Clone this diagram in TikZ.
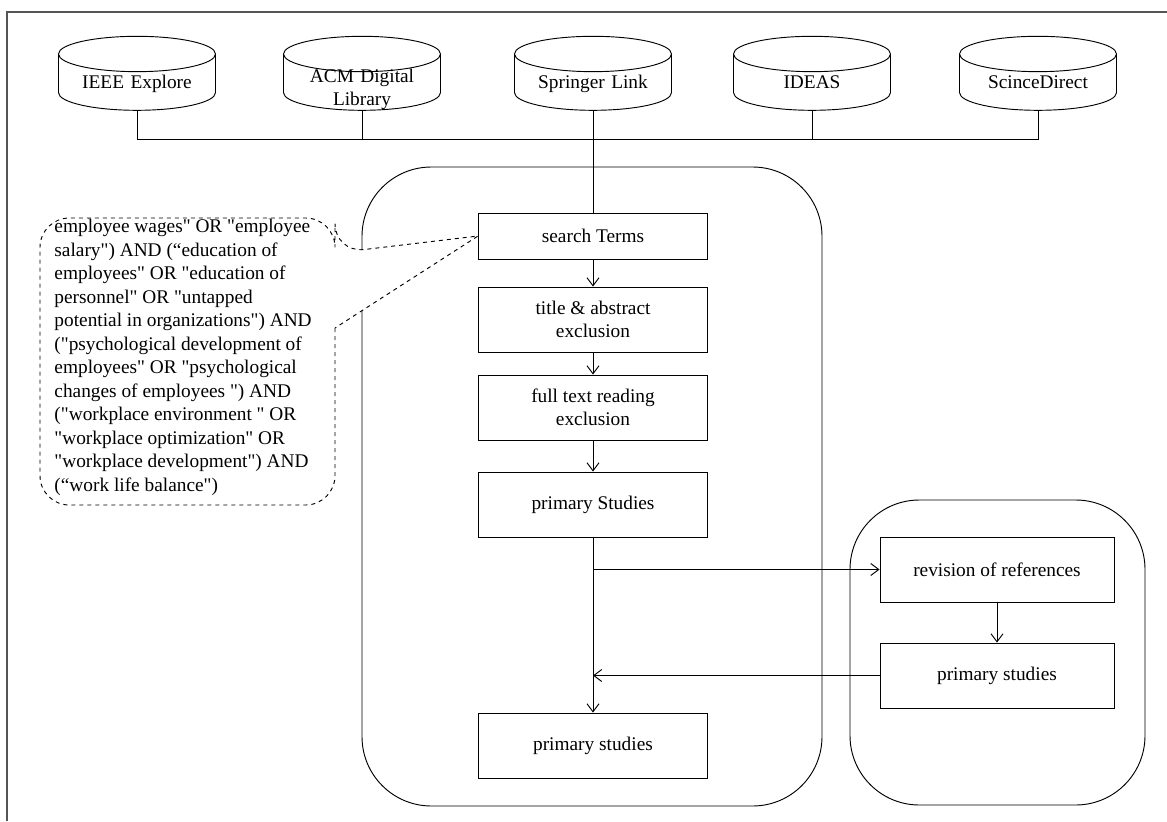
\documentclass[tikz,border=0pt]{standalone}
\usepackage{fontspec}
\setmainfont{Liberation Serif}[Ligatures=TeXOff]
\usetikzlibrary{shapes.geometric,arrows.meta,positioning}
\definecolor{framegray}{RGB}{85,85,85}
\newcommand{\labfont}{\fontsize{14.5}{17.6}\selectfont}

\tikzset{
  db/.style={cylinder, shape border rotate=90, draw, aspect=0.26,
    minimum width=157*0.75pt, minimum height=74*0.75pt, inner sep=1pt,
    text width=100pt, align=center, text height=10pt, text depth=3pt, font=\labfont},
  stepbox/.style={draw, rectangle, minimum width=229*0.75pt,
    minimum height=65*0.75pt, inner sep=2pt, align=center, font=\labfont},
  flow/.style={-{Straight Barb[length=6pt,width=9pt]}},
  lane/.style={draw, rounded corners=52pt}
}

\begin{document}
\begin{tikzpicture}[x=0.75pt,y=-0.75pt,line width=0.7pt]
        \useasboundingbox (0,0) rectangle (1167,821);
        % page frame (top and left only)
        \draw[framegray,line width=1.5pt] (1167,12) -- (7,12) -- (7,821);
        % databases
        \node[db] (ieee) at (137,84) {IEEE Explore};
        \node[db] (acm) at (362,84)
            {\raisebox{-4pt}{\begin{tabular}{@{}c@{}}ACM Digital\\Library\end{tabular}}};
        \node[db] (springer) at (593,84) {Springer Link};
        \node[db] (ideas) at (812,84) {IDEAS};
        \node[db] (sd) at (1038,84) {ScinceDirect};
        % lanes
        \draw[lane] (362,167) rectangle (822,806);
        \draw[lane] (850,500) rectangle (1145,805);
        % steps
        \node[stepbox,minimum height=46*0.75pt] (search) at (593,236) {search Terms};
        \node[stepbox] (title) at (593,319.5) {title \& abstract\\exclusion};
        \node[stepbox] (fulltext) at (593,407.5) {full text reading\\exclusion};
        \node[stepbox] (prim) at (593,504.5) {primary Studies};
        \node[stepbox] (final) at (593,745.5) {primary studies};
        \node[stepbox,minimum width=234*0.75pt] (revision) at (997,569.5) {revision of references};
        \node[stepbox,minimum width=234*0.75pt] (snow) at (997,675.5) {primary studies};
        % bus joining the databases
        \coordinate (bus) at (593,139);
        \draw (ieee.bottom) -- (ieee.bottom |- bus) -- (sd.bottom |- bus) -- (sd.bottom);
        \foreach \db in {acm,ideas}
            \draw (\db.bottom) -- (\db.bottom |- bus);
        \draw (springer.bottom) -- (search.north);
        % flow
        \draw[flow] (search) -- (title);
        \draw[flow] (title) -- (fulltext);
        \draw[flow] (fulltext) -- (prim);
        \draw[flow] (prim) -- (final);
        \draw[flow] (prim.south |- revision.west) -- (revision.west);
        \draw[flow] (revision) -- (snow);
        \draw[flow] (snow.west) -- (prim.south |- snow.west);
        % search string callout
        \draw[dashed,fill=white] (335,328) [rounded corners=22pt] -- (335,505) -- (40,505)
            -- (40,218) -- (335,218) -- (335,253) [sharp corners] -- (search.west) -- cycle;
        \node[anchor=north west,align=left,inner sep=0,font=\labfont] (query) at (54,219)
            {employee wages" OR "employee\\
             salary") AND (“education of\\
             employees" OR "education of\\
             personnel" OR "untapped\\
             potential in organizations") AND\\
             ("psychological development of\\
             employees" OR "psychological\\
             changes of employees ") AND\\
             ("workplace environment " OR\\
             "workplace optimization" OR\\
             "workplace development") AND\\
             (“work life balance")};
    \end{tikzpicture}
\end{document}
